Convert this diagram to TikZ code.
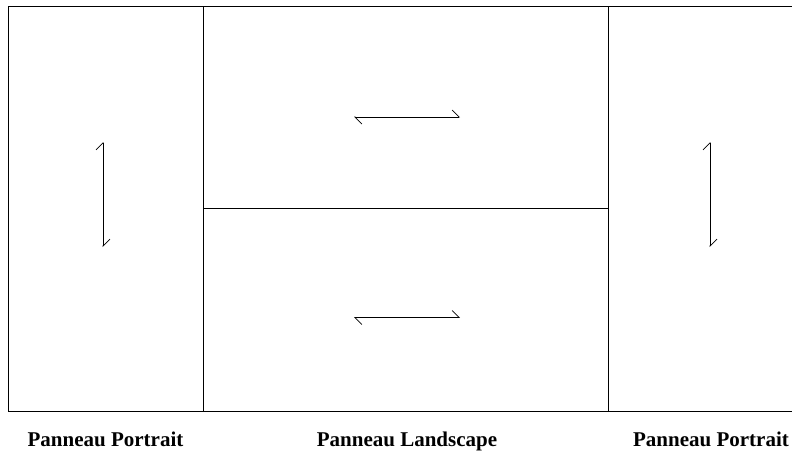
\documentclass[tikz,border=0pt]{standalone}
\usepackage{fontspec}
\setmainfont{Liberation Serif}
\usetikzlibrary{arrows.meta}

\tikzset{
  panel/.style={draw=black, line width=1pt},
  flip/.style={line width=0.7pt,
    {Straight Barb[left,length=7pt,width=14pt]}-{Straight Barb[left,length=7pt,width=14pt]}},
  caption/.style={font=\bfseries\fontsize{21}{25}\selectfont, anchor=base, inner sep=0pt}
}

\begin{document}
\begin{tikzpicture}[x=1pt, y=-1pt]
    \useasboundingbox (0,0) rectangle (792,453);
    % frame and panels
    \draw[panel] (792,6) -- (8,6) -- (8,411) -- (792,411);
    \draw[panel] (203,6) -- (203,411);
    \draw[panel] (608,6) -- (608,411);
    \draw[panel] (203,208.5) -- (608,208.5);
    % arrow ends
    \coordinate (lefttop) at (103,142);
    \coordinate (leftbot) at (103,247);
    \coordinate (uppleft) at (354,117);
    \coordinate (uppright) at (460,117);
    \coordinate (lowleft) at (354,317.5);
    \coordinate (lowright) at (460,317.5);
    \coordinate (righttop) at (710,142);
    \coordinate (rightbot) at (710,247);
    \draw[flip] (lefttop) -- (leftbot);
    \draw[flip] (uppleft) -- (uppright);
    \draw[flip] (lowleft) -- (lowright);
    \draw[flip] (righttop) -- (rightbot);
    % captions
    \node[caption] (portraitleft) at (105.5,446) {Panneau Portrait};
    \node[caption] (landscape) at (407,446) {Panneau Landscape};
    \node[caption] (portraitright) at (711,446) {Panneau Portrait};
\end{tikzpicture}
\end{document}
